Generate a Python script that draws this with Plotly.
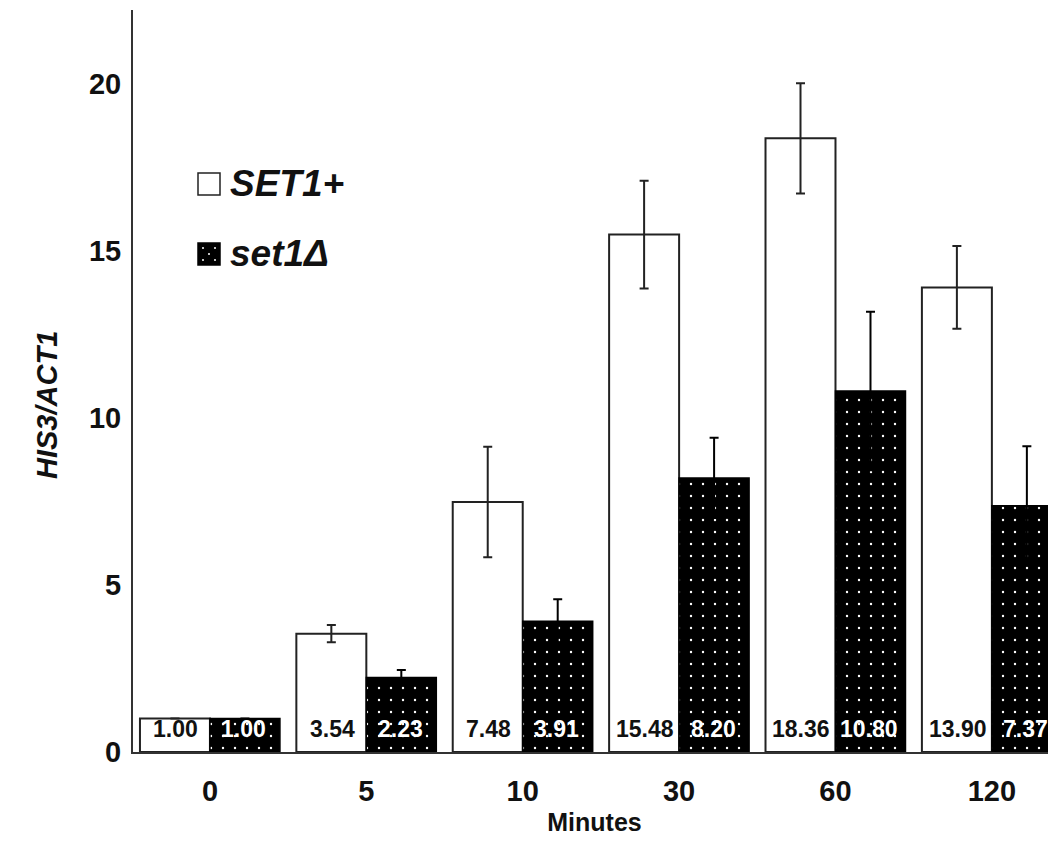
import plotly.graph_objects as go

minutes = ["0", "5", "10", "30", "60", "120"]
set1_plus = [1.00, 3.54, 7.48, 15.48, 18.36, 13.90]
set1_plus_err = [None, 0.26, 1.65, 1.61, 1.65, 1.24]
set1_delta = [1.00, 2.23, 3.91, 8.20, 10.80, 7.37]
set1_delta_err = [None, 0.22, 0.66, 1.20, 2.37, 1.78]
y_ticks = [0, 5, 10, 15, 20]
series_names = ["SET1+", "set1Δ"]

FONT = "Liberation Sans, Arial, sans-serif"
INK = "#111"

# page has an 8px body margin: figure pixel = page pixel - 8
W, H = 1056, 842
ML, MR, MT, MB = 125, 8, 2, 98
PW, PH = W - ML - MR, H - MT - MB


def px_to_paper(px, py):
    fx, fy = px - 8, py - 8
    return (fx - ML) / PW, 1 - (fy - MT) / PH


fig = go.Figure()
fig.add_trace(go.Bar(
    name=series_names[0],
    x=minutes, y=set1_plus,
    marker=dict(color="white", line=dict(color="#222", width=2)),
    error_y=dict(type="data", array=set1_plus_err, visible=True,
                 color="#222", thickness=2, width=4.5),
))
fig.add_trace(go.Bar(
    name=series_names[1],
    x=minutes, y=set1_delta,
    marker=dict(color="black", line=dict(color="black", width=1.5),
                pattern=dict(shape=".", fgcolor="white", bgcolor="black", size=12,
                             solidity=0.03, fillmode="replace")),
    error_y=dict(type="data", array=set1_delta_err, visible=True,
                 color="black", thickness=2, width=4.5),
))

# value labels at the base of each bar (category index positions)
half_bar = 34
for i, (v1, v2) in enumerate(zip(set1_plus, set1_delta)):
    for val, shift, col in ((v1, -half_bar, INK), (v2, half_bar, "white")):
        fig.add_annotation(
            x=i, y=0, xref="x", yref="y", text=f"{val:.2f}",
            showarrow=False, xanchor="center", yanchor="bottom",
            xshift=shift, yshift=8,
            font=dict(family=FONT, size=23, color=col, weight="bold"),
        )

# legend drawn by hand (larger swatches than plotly's built-in legend)
legend_rows = [
    (series_names[0], 184, "white", "#222"),
    (series_names[1], 254, "black", "black"),
]
for name, cy, fill, line in legend_rows:
    sx, sy = px_to_paper(209, cy)
    fig.add_shape(type="rect", xref="paper", yref="paper",
                  xsizemode="pixel", ysizemode="pixel", xanchor=sx, yanchor=sy,
                  x0=-11, x1=11, y0=-11, y1=11,
                  fillcolor=fill, line=dict(color=line, width=1.5))
    tx, ty = px_to_paper(228, cy)
    fig.add_annotation(x=tx, y=ty, xref="paper", yref="paper", text=name,
                       showarrow=False, xanchor="left", yanchor="middle",
                       font=dict(family=FONT, size=37, color=INK,
                                 weight="bold", style="italic"))
# a few white specks on the black swatch, like the bar pattern
bx, by = px_to_paper(209, 254)
for dx, dy in ((-6, -6), (6, -6), (0, 0), (-6, 6), (6, 6)):
    fig.add_shape(type="circle", xref="paper", yref="paper",
                  xsizemode="pixel", ysizemode="pixel", xanchor=bx, yanchor=by,
                  x0=dx - 1, x1=dx + 1, y0=dy - 1, y1=dy + 1,
                  fillcolor="white", line=dict(width=0))

# y-axis title (placed as in the original, a bit below the plot centre)
yt_x, yt_y = px_to_paper(47, 405)
fig.add_annotation(x=yt_x, y=yt_y, xref="paper", yref="paper", text="HIS3/ACT1",
                   showarrow=False, textangle=-90, xanchor="center", yanchor="middle",
                   font=dict(family=FONT, size=29, color=INK, weight="bold", style="italic"))

fig.update_layout(
    width=W, height=H,
    margin=dict(l=ML, r=MR, t=MT, b=MB),
    paper_bgcolor="white", plot_bgcolor="white",
    barmode="group", bargap=0.105, bargroupgap=0,
    font=dict(family=FONT, color=INK),
    showlegend=False,
    xaxis=dict(
        type="category", range=[-0.492, 5.41],
        showline=True, linecolor="#333", linewidth=2,
        ticks="", showgrid=False, zeroline=False,
        tickfont=dict(family=FONT, size=29, color=INK, weight="bold"),
        ticklabelstandoff=12,
        title=dict(text="Minutes",
                   font=dict(family=FONT, size=25, color=INK, weight="bold"),
                   standoff=8),
    ),
    yaxis=dict(
        range=[0, 22.2], tickvals=y_ticks, tickformat="d",
        showline=True, linecolor="#333", linewidth=2,
        ticks="", showgrid=False, zeroline=False,
        tickfont=dict(family=FONT, size=29, color=INK, weight="bold"),
        ticklabelstandoff=4,
    ),
)

fig.write_html("out.html")
